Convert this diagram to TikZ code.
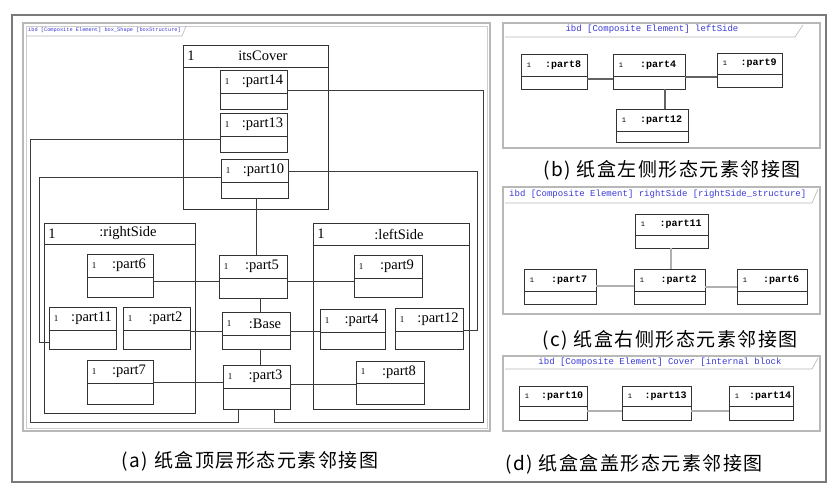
\documentclass[tikz,border=0pt]{standalone}
\usepackage{fontspec}
\setmainfont{Liberation Serif}
\newfontfamily\monof{Liberation Mono}
\newfontfamily\cjk[LetterSpace=8]{Noto Sans CJK SC}
\usetikzlibrary{calc}
\definecolor{frameg}{HTML}{B8B8B8}
\definecolor{outerg}{HTML}{7A7A7A}
\definecolor{hdrblue}{HTML}{3A3AD8}
\definecolor{boxl}{HTML}{333333}
\definecolor{connl}{HTML}{3C3C3C}
\definecolor{connlight}{HTML}{B0B0B0}
\tikzset{
  pbox/.style={draw=boxl, line width=0.9pt, inner sep=0pt, outer sep=0pt, fill=white},
  cbox/.style={draw=boxl, line width=0.9pt, inner sep=0pt, outer sep=0pt},
  sepl/.style={draw=boxl, line width=0.9pt},
  conn/.style={draw=connl, line width=0.8pt},
  connb/.style={draw=connl!80, line width=1.1pt},
  connlt/.style={draw=connlight, line width=1.2pt},
  panelframe/.style={draw=frameg, line width=1.6pt},
  panelinner/.style={draw=frameg!70, line width=0.5pt},
  tabline/.style={draw=frameg, line width=0.6pt},
  hdrtext/.style={text=hdrblue, inner sep=0pt},
  caption/.style={font=\cjk\fontsize{19}{21}\selectfont, inner sep=0pt},
}
% part box, panel (a): name, x, y, w, h, header height, label
\newcommand\pa[7]{%
  \node[pbox, minimum width=#4pt, minimum height=#5pt, anchor=north west] (#1) at (#2,#3) {};
  \draw[sepl] ([yshift=-#6pt]#1.north west) -- ([yshift=-#6pt]#1.north east);
  \node[font=\fontsize{9}{9}\selectfont, inner sep=0pt] at ([xshift=7pt,yshift=-#6pt/2]#1.north west) {1};
  \node[font=\fontsize{14.5}{14.5}\selectfont, inner sep=0pt] at ([xshift=9pt,yshift=-#6pt/2]#1.north) {#7};
}
% part box, panels (b)-(d)
\newcommand\pb[7]{%
  \node[pbox, minimum width=#4pt, minimum height=#5pt, anchor=north west] (#1) at (#2,#3) {};
  \draw[sepl] ([yshift=-#6pt]#1.north west) -- ([yshift=-#6pt]#1.north east);
  \node[font=\monof\fontsize{7}{8}\selectfont, inner sep=0pt] at ([xshift=8pt,yshift=-#6pt/2]#1.north west) {1};
  \node[font=\monof\bfseries\fontsize{10}{10}\selectfont, inner sep=0pt] at ([xshift=9pt,yshift=-#6pt/2]#1.north) {#7};
}
% container: name, x, y, w, h, header, label, label offset
\newcommand\pc[8]{%
  \node[cbox, minimum width=#4pt, minimum height=#5pt, anchor=north west] (#1) at (#2,#3) {};
  \draw[sepl] ([yshift=-#6pt]#1.north west) -- ([yshift=-#6pt]#1.north east);
  \node[font=\fontsize{14.5}{14.5}\selectfont, inner sep=0pt] at ([xshift=8pt,yshift=-#6pt/2]#1.north west) {1};
  \node[font=\fontsize{14.5}{14.5}\selectfont, inner sep=0pt] at ([xshift=#8pt,yshift=-#6pt/2]#1.north) {#7};
}
\begin{document}
\begin{tikzpicture}[x=1pt,y=-1pt]
\useasboundingbox (0,0) rectangle (838,494);
\fill[white] (0,0) rectangle (838,494);
% outer frame
\draw[outerg, line width=1.6pt] (12,15) rectangle (826,482);

% ---------- panel (a)
\draw[panelframe] (23,23) rectangle (490,431);
\draw[panelinner] (26,26) rectangle (487,428);
\draw[tabline] (26,36) -- (182,36) -- (186,26);
\node[hdrtext, anchor=west, font=\monof\fontsize{5.3}{6}\selectfont] at (28,30) {ibd [Composite Element] box\_Shape [boxStructure]};

\pc{itsCover}{183}{45}{145}{164}{22}{itsCover}{7.5}
\pc{rightSide}{44}{223}{151}{190}{21}{:rightSide}{8.5}
\pc{leftSide}{313}{223}{156}{186}{22}{:leftSide}{8}

\pa{part14}{220}{70}{67}{39}{23}{:part14}
\pa{part13}{220}{113}{67}{39}{23}{:part13}
\pa{part10}{221}{159}{67}{39}{23}{:part10}
\pa{part6}{87}{254}{66}{43}{23}{:part6}
\pa{part11}{49}{307}{67}{42}{23}{:part11}
\pa{part2}{123}{307}{67}{42}{23}{:part2}
\pa{part7}{87}{360}{66}{44}{23}{:part7}
\pa{part5}{219}{255}{68}{43}{23}{:part5}
\pa{Base}{222}{312}{68}{37}{23}{:Base}
\pa{part3}{223}{365}{67}{44}{23}{:part3}
\pa{part9}{354}{255}{68}{42}{23}{:part9}
\pa{part4}{320}{309}{65}{40}{23}{:part4}
\pa{part12}{395}{308}{68}{41}{23}{:part12}
\pa{part8}{356}{361}{68}{43}{22}{:part8}

% connectors (a)
\draw[conn] ([yshift=-20pt]part14.north east) -| (483,422) -| ([xshift=51pt]part3.south west);
\draw[conn] ([yshift=-26pt]part13.north west) -| (30,422) -| ([xshift=15pt]part3.south west);
\draw[conn] ([yshift=-18pt]part10.north west) -| (39,342) -- ([yshift=-35pt]part11.north west);
\draw[conn] ([yshift=-12pt]part10.north east) -| (477,330) -- ([yshift=-22pt]part12.north east);
\draw[conn] ([xshift=35pt]part10.south west) -- ([xshift=37pt]part5.north west);
\draw[conn] ([yshift=-27pt]part6.north east) -- ([yshift=-26pt]part5.north west);
\draw[conn] ([yshift=-26pt]part5.north east) -- ([yshift=-26pt]part9.north west);
\draw[conn] ([xshift=41pt]part5.south west) -- ([xshift=38pt]Base.north west);
\draw[conn] ([yshift=-24pt]part2.north east) -- ([yshift=-19pt]Base.north west);
\draw[conn] ([yshift=-19pt]Base.north east) -- ([yshift=-22pt]part4.north west);
\draw[conn] ([xshift=38pt]Base.south west) -- ([xshift=37pt]part3.north west);
\draw[conn] ([yshift=-22pt]part7.north east) -- ([yshift=-17pt]part3.north west);
\draw[conn] ([yshift=-19pt]part3.north east) -- ([yshift=-23pt]part8.north west);

% ---------- panel (b)
\draw[panelframe] (503,23) rectangle (820,148);
\draw[tabline] (505,37) -- (795,37) -- (803,25);
\node[hdrtext, font=\monof\fontsize{9}{10}\selectfont] at (652,29.5) {ibd [Composite Element] leftSide};
\pb{bpart8}{521}{54}{66}{35}{22}{:part8}
\pb{bpart4}{613}{54}{72}{35}{22}{:part4}
\pb{bpart9}{717}{53}{65}{34}{21}{:part9}
\pb{bpart12}{616}{109}{72}{33}{22}{:part12}
\draw[connb] ([yshift=-25pt]bpart8.north east) -- ([yshift=-25pt]bpart4.north west);
\draw[connb] ([yshift=-23pt]bpart4.north east) -- ([yshift=-24pt]bpart9.north west);
\draw[connb] ([xshift=52pt]bpart4.south west) -- ([xshift=49pt]bpart12.north west);
\node[caption] at (672,170) {(b) 纸盒左侧形态元素邻接图};

% ---------- panel (c)
\draw[panelframe] (503,187) rectangle (820,314);
\draw[tabline] (505,203) -- (812,203) -- (818,189);
\node[hdrtext, anchor=west, font=\monof\fontsize{9}{10}\selectfont] at (509,194) {ibd [Composite Element] rightSide [rightSide\_structure]};
\pb{cpart11}{635}{214}{73}{34}{21}{:part11}
\pb{cpart7}{524}{269}{72}{35}{22}{:part7}
\pb{cpart2}{634}{269}{71}{35}{22}{:part2}
\pb{cpart6}{737}{269}{70}{35}{22}{:part6}
\draw[connlt] ([xshift=36pt]cpart11.south west) -- ([xshift=37pt]cpart2.north west);
\draw[connlt] ([yshift=-17pt]cpart7.north east) -- ([yshift=-17pt]cpart2.north west);
\draw[connlt] ([yshift=-18pt]cpart2.north east) -- ([yshift=-18pt]cpart6.north west);
\node[caption] at (670,340) {(c) 纸盒右侧形态元素邻接图};

% ---------- panel (d)
\draw[panelframe] (503,356) rectangle (820,431);
\draw[tabline] (505,369) -- (812,369) -- (818,358);
\node[hdrtext, font=\monof\fontsize{9}{10}\selectfont] at (660,362) {ibd [Composite Element] Cover [internal block};
\pb{dpart10}{519}{386}{68}{34}{20}{:part10}
\pb{dpart13}{622}{386}{69}{34}{20}{:part13}
\pb{dpart14}{729}{386}{64}{34}{20}{:part14}
\draw[connlt] ([yshift=-25pt]dpart10.north east) -- ([yshift=-25pt]dpart13.north west);
\draw[connlt] ([yshift=-25pt]dpart13.north east) -- ([yshift=-25pt]dpart14.north west);
\node[caption] at (634,464) {(d) 纸盒盒盖形态元素邻接图};

% caption (a)
\node[caption] at (250,461) {(a) 纸盒顶层形态元素邻接图};
\end{tikzpicture}
\end{document}
